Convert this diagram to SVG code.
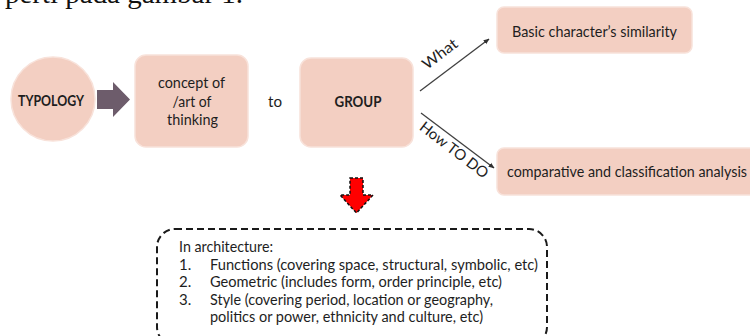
<svg xmlns="http://www.w3.org/2000/svg" width="750" height="336" viewBox="0 0 750 336">
  <style>
    .node { fill: #f3cfc2; stroke: #f8e2da; stroke-width: 1.5; }
    .lbl { font-family: Lato, "Liberation Sans", sans-serif; font-size: 15px; fill: #1e1e1e; }
    .bold { font-weight: bold; }
    .mid { text-anchor: middle; }
    .conn { stroke: #404040; stroke-width: 1.3; fill: none; marker-end: url(#tip); }
  </style>
  <defs>
    <marker id="tip" viewBox="0 0 10 10" refX="9" refY="5" markerWidth="6" markerHeight="6" orient="auto" markerUnits="userSpaceOnUse">
      <path d="M0,1 L10,5 L0,9 Z" fill="#303030"/>
    </marker>
  </defs>

  <rect width="750" height="336" fill="#ffffff"/>

  <!-- running text line cut at the top edge -->
  <text x="5" y="3" font-family="'Liberation Serif', serif" font-size="28" fill="#111" textLength="238" lengthAdjust="spacingAndGlyphs">perti pada gambar 1.</text>

  <!-- connectors -->
  <g id="connectors">
    <line class="conn" x1="420" y1="91" x2="489" y2="39"/>
    <line class="conn" x1="421" y1="113" x2="494" y2="168"/>
    <text class="lbl mid" x="440" y="59" textLength="40" lengthAdjust="spacingAndGlyphs" transform="rotate(-37 440 54)">What</text>
    <text class="lbl mid" x="454" y="155" textLength="82" lengthAdjust="spacingAndGlyphs" transform="rotate(37.6 454 150)">How TO DO</text>
    <!-- block arrow TYPOLOGY -> concept -->
    <path id="arrow-typology" d="M97,90 H113 V82 L130,99.5 L113,117 V109 H97 Z" fill="#6d5c6b"/>
    <!-- red downward arrow -->
    <path id="arrow-down" d="M350,178 H363 V195 H373 L356.5,213 L340,195 H350 Z" fill="#ff0000" stroke="#111" stroke-width="1.5" stroke-dasharray="3 2"/>
  </g>

  <g id="typology">
    <circle class="node" cx="53" cy="99" r="42"/>
    <text class="lbl bold mid" x="51" y="106" textLength="66" lengthAdjust="spacingAndGlyphs">TYPOLOGY</text>
  </g>

  <g id="concept">
    <rect class="node" x="135" y="55" width="113" height="92" rx="11"/>
    <text class="lbl mid" x="191.5" y="88" textLength="67" lengthAdjust="spacingAndGlyphs">concept of</text>
    <text class="lbl mid" x="192" y="106.5" textLength="39" lengthAdjust="spacingAndGlyphs">/art of</text>
    <text class="lbl mid" x="192.5" y="125" textLength="51" lengthAdjust="spacingAndGlyphs">thinking</text>
  </g>

  <g id="to">
    <text class="lbl mid" x="275" y="107" textLength="14" lengthAdjust="spacingAndGlyphs">to</text>
  </g>

  <g id="group">
    <rect class="node" x="300" y="58" width="113" height="89" rx="11"/>
    <text class="lbl bold mid" x="358" y="107" textLength="47" lengthAdjust="spacingAndGlyphs">GROUP</text>
  </g>

  <g id="similarity">
    <rect class="node" x="497" y="7" width="195" height="46" rx="7"/>
    <text class="lbl" x="512" y="37" textLength="165" lengthAdjust="spacingAndGlyphs">Basic character’s similarity</text>
  </g>

  <g id="analysis">
    <rect class="node" x="497" y="148" width="270" height="47" rx="7"/>
    <text class="lbl" x="507" y="177" textLength="240" lengthAdjust="spacingAndGlyphs">comparative and classification analysis</text>
  </g>

  <g id="architecture">
    <rect x="157" y="229" width="390" height="116" rx="18" fill="none" stroke="#1a1a1a" stroke-width="2" stroke-dasharray="7 4"/>
    <text class="lbl" x="179" y="252" textLength="94" lengthAdjust="spacingAndGlyphs">In architecture:</text>
    <text class="lbl" x="179" y="269.5">1.</text>
    <text class="lbl" x="210" y="269.5" textLength="328" lengthAdjust="spacingAndGlyphs">Functions (covering space, structural, symbolic, etc)</text>
    <text class="lbl" x="179" y="287">2.</text>
    <text class="lbl" x="210" y="287" textLength="292" lengthAdjust="spacingAndGlyphs">Geometric (includes form, order principle, etc)</text>
    <text class="lbl" x="179" y="304.5">3.</text>
    <text class="lbl" x="210" y="304.5" textLength="283" lengthAdjust="spacingAndGlyphs">Style (covering period, location or geography,</text>
    <text class="lbl" x="210" y="322" textLength="273" lengthAdjust="spacingAndGlyphs">politics or power, ethnicity and culture, etc)</text>
  </g>
</svg>
